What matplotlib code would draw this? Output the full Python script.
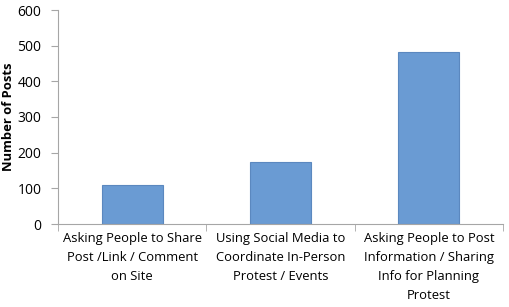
import matplotlib
matplotlib.use("Agg")
import matplotlib.pyplot as plt
import numpy as np

categories = ['Asking People to Share\nPost /Link / Comment\non Site',
              'Using Social Media to\nCoordinate In-Person\nProtest / Events',
              'Asking People to Post\nInformation / Sharing\nInfo for Planning\nProtest']
posts = [110, 173, 483]

plt.rcParams['font.family'] = ['Open Sans', 'DejaVu Sans']

fig = plt.figure(figsize=(5.1, 3.07), dpi=100)
ax = fig.add_axes([58/510, 1 - 224/307, 445/510, 214/307])

x = np.arange(len(categories))
ax.bar(x, posts, width=0.41, color='#6a9bd3', edgecolor='#5b88bf', linewidth=0.8)

ax.set_xlim(-0.5, len(categories) - 0.5)
ax.set_ylim(0, 600)
ax.set_yticks(range(0, 601, 100))
ax.set_xticks(x)
ax.set_xticklabels(categories, fontsize=9.4, linespacing=1.6)
ax.set_xticks(np.arange(-0.5, len(categories)), minor=True)
ax.tick_params(axis='x', which='major', length=0, pad=6)
ax.tick_params(axis='x', which='minor', length=5, color='#a6a6a6')
ax.tick_params(axis='y', length=5, color='#a6a6a6', labelsize=10, pad=7)

# y label placed by hand so it stays inside the small figure
fig.text(9/510, 1 - 117/307, 'Number of Posts', rotation=90, ha='center',
         va='center', fontsize=9.4, fontweight='bold')

for s in ['top', 'right']:
    ax.spines[s].set_visible(False)
for s in ['left', 'bottom']:
    ax.spines[s].set_color('#a6a6a6')

fig.savefig('out.png', dpi=100)
